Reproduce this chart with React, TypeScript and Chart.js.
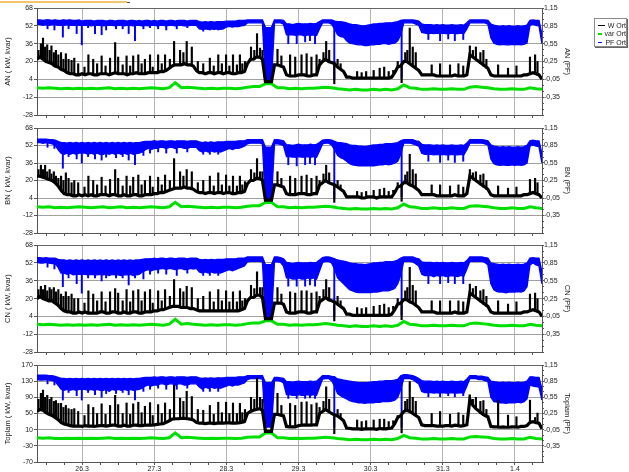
import { useEffect, useRef } from 'react';
import { Chart, registerables } from 'chart.js';
Chart.register(...registerables);

// x axis = hours since 25.3 00:00
const X_MIN = 9;
const X_MAX = 177;
const DAY_TICKS = [24, 48, 72, 96, 120, 144, 168];
const DAY_LABELS = ['26.3', '27.3', '28.3', '29.3', '30.3', '31.3', '1.4'];
const PF_LABELS = [-0.35, -0.05, 0.25, 0.55, 0.85, 1.15];
const LEGEND = ['W Ort', 'var Ort', 'PF Ort'];
const COLORS = ['#000000', '#00e000', '#0000ff'];

// hourly base level of W (h 9..177)
const W_AN = [
  22,24,22,20,19,18,16,15,13,12,10,9,9,8,8,
  9,8,9,9,8,8,9,9,9,8,9,10,9,9,9,8,9,9,10,9,9,9,10,10,
  10,10,11,11,12,14,16,17,17,17,18,17,17,16,12,10,10,9,10,10,9,10,10,9,
  10,10,9,9,10,10,11,18,22,22,24,24,22,2,2,2,17,17,16,15,8,7,7,7,
  8,8,8,7,7,8,8,17,20,22,20,19,18,15,13,11,6,6,5,5,5,5,5,5,
  5,5,5,5,5,5,5,6,10,15,16,20,20,18,16,14,12,8,8,8,8,8,7,7,
  7,7,7,7,8,7,7,7,8,26,24,22,20,18,16,14,8,7,7,7,7,7,7,7,
  7,7,7,8,8,9,10,9,8,4,
];
const W_BN = [
  24,24,23,22,21,20,18,15,11,8,7,7,6,6,7,
  6,7,6,7,6,6,7,7,7,6,7,7,6,6,7,6,6,7,7,6,6,7,7,7,
  8,8,9,9,10,11,12,13,13,13,14,13,13,12,10,9,9,8,9,9,8,9,9,8,
  9,9,8,8,9,9,10,17,20,20,22,22,20,2,2,2,16,16,15,14,8,7,7,7,
  8,8,8,7,7,8,8,16,18,20,18,17,16,14,12,10,5,5,5,5,5,4,4,5,
  5,5,4,5,5,5,5,5,9,14,15,18,18,16,15,13,11,7,7,7,7,7,6,6,
  6,6,6,6,7,6,6,6,8,24,22,20,18,16,14,12,7,6,6,6,6,6,6,6,
  6,6,6,7,7,8,9,8,7,4,
];
const W_CN = [
  20,22,20,19,18,18,16,14,11,9,8,8,7,7,8,
  7,8,7,7,7,7,8,8,7,7,8,8,7,7,8,7,7,8,8,7,7,8,8,8,
  9,9,10,10,11,12,13,13,13,12,12,12,11,11,10,9,9,9,9,9,9,9,9,9,
  9,9,9,9,9,10,11,18,21,21,23,23,21,2,2,2,16,16,16,15,8,7,7,7,
  8,8,8,7,7,8,8,17,19,21,19,18,17,15,13,11,6,6,5,5,5,5,5,5,
  5,5,5,5,5,5,5,6,10,15,16,19,19,17,16,14,12,8,8,8,8,8,7,7,
  7,7,7,7,8,7,7,7,8,25,23,21,19,17,15,13,8,7,7,7,7,7,7,7,
  7,7,7,8,8,9,10,9,8,4,
];
const W_TOP = [
  55,60,58,52,48,45,40,35,28,24,22,20,19,19,19,
  18,20,19,19,18,19,20,20,19,20,21,21,19,19,21,19,19,21,21,20,20,21,21,21,
  22,23,24,25,28,32,36,37,37,38,38,37,36,34,28,26,26,25,26,26,25,26,27,26,
  27,27,26,26,27,28,30,50,55,58,60,62,58,6,6,6,48,48,46,44,18,17,17,17,
  20,21,22,21,21,22,22,50,55,60,55,50,46,44,38,32,14,13,12,12,12,11,12,12,
  12,12,11,13,12,12,13,14,25,40,45,55,58,55,50,45,40,22,20,20,20,20,19,19,
  19,20,20,19,21,20,19,20,22,85,70,62,56,50,45,42,18,17,17,16,17,16,16,17,
  17,16,18,18,20,28,30,27,26,12,
];

// W peaks (thin spikes) at these hours
const SPIKE_HOURS = [
  9.5,10.3,11,11.7,12.4,13.2,13.8,14.6,15.3,16.1,17,17.8,18.6,19.5,20.5,21.4,22.7,
  24.8,26.1,27.7,29,30.5,31.8,33.3,35,36,37.5,38.8,40,41,42.7,43.8,44.9,46.6,47.5,
  49.3,50.5,51.6,53.2,54.6,56.6,57.7,58.8,60.5,62.5,64.3,66.5,67.8,69.3,70.5,71.9,
  73,74.2,75.5,76.5,77.3,78.2,80.2,81.3,82.2,83.2,84,89,90.3,93.2,94.9,
  97,98.7,100.3,102,103,104.3,105.2,106.2,109,110,115.5,117,118.5,
  121,123,124.5,126,127.5,129,131.5,132.2,133,134,135,140.3,143.1,
  146.4,149.2,150.8,153,154,155,156.5,157.5,158.5,162.4,165.7,168.5,
  173,174.7,175.5,
];
const SPIKE_AN = [
  30,36,41,33,35,30,34,28,30,26,28,22,27,22,21,23,18,
  15,26,22,18,25,16,23,37,24,17,25,16,25,26,18,22,26,15,
  26,18,26,22,38,30,28,38,33,20,18,23,16,26,18,26,
  16,26,17,26,18,20,33,30,45,32,30,31,25,26,24,
  26,27,24,26,22,28,38,30,22,18,11,10,11,
  12,14,15,11,12,20,28,30,50,33,28,17,18,
  17,18,16,34,30,33,28,30,22,17,14,16,
  24,26,20,
];
const SPIKE_BN = [
  30,34,30,34,28,30,26,28,24,22,24,20,27,22,18,20,18,
  14,24,20,16,23,15,21,30,22,15,24,15,23,25,16,20,24,14,
  23,16,25,20,40,28,24,30,28,18,20,24,15,27,16,25,
  15,24,15,24,16,19,30,27,40,28,28,28,22,24,22,
  24,25,22,24,20,26,34,27,20,16,10,9,10,
  11,12,13,10,11,18,25,28,44,30,26,16,16,
  15,16,14,30,27,28,25,26,20,15,13,14,
  21,22,18,
];
const SPIKE_CN = [
  28,31,28,32,27,30,28,30,26,28,24,22,26,22,24,20,20,
  16,27,24,18,26,17,26,29,25,18,28,17,27,28,18,26,28,16,
  27,18,28,22,37,29,26,31,30,20,22,26,17,28,18,27,
  17,26,17,27,18,20,32,29,44,30,30,30,24,26,25,
  27,27,25,26,22,28,37,30,22,18,12,11,12,
  13,14,15,12,13,20,27,30,48,32,27,18,18,
  18,18,17,33,29,31,27,28,22,18,15,17,
  24,25,20,
];
const SPIKE_TOP = [
  85,100,108,90,95,85,90,80,82,75,75,65,70,62,60,62,55,
  45,72,65,50,74,48,70,95,72,50,76,48,74,78,52,68,77,45,
  72,50,76,60,120,88,80,105,92,60,58,70,48,78,52,78,
  50,76,50,75,52,60,90,85,138,90,85,100,70,75,70,
  78,79,72,76,65,80,116,85,60,50,34,30,32,
  34,36,36,30,32,45,80,85,129,90,80,50,55,
  48,52,46,96,85,90,80,82,60,83,46,42,
  83,40,51,
];

// short drops of W to ~0
const W_DIP_HOURS = [107.9, 130.3];
const W_DIP_AN = [0, 1];
const W_DIP_BN = [0, 1];
const W_DIP_CN = [0, 1];
const W_DIP_TOP = [0, 2];

// hourly PF band, upper and lower edge (h 9..177)
const PF_AN_HI = [
  .95,.95,.94,.95,.95,.94,.95,.94,.94,.95,.94,.95,.94,.94,.95,
  .93,.94,.94,.94,.93,.94,.94,.94,.93,.94,.94,.93,.94,.94,.94,.93,.94,.94,.93,.94,.93,.94,.94,.93,
  .94,.93,.94,.94,.93,.94,.94,.93,.94,.94,.94,.93,.94,.94,.94,.92,.91,.92,.91,.92,.91,.92,.92,.92,
  .93,.93,.93,.93,.94,.94,.94,.95,.95,.95,.95,.95,.95,.82,.82,.82,.95,.95,.95,.94,.88,.88,.87,.88,
  .89,.88,.88,.88,.89,.88,.89,.92,.95,.95,.95,.95,.93,.92,.92,.91,.9,.88,.87,.87,.86,.85,.85,.86,
  .87,.88,.88,.89,.89,.9,.9,.9,.91,.92,.94,.95,.95,.95,.95,.94,.93,.88,.87,.87,.87,.86,.87,.86,
  .87,.86,.86,.87,.86,.86,.87,.86,.9,.95,.95,.95,.95,.95,.95,.94,.88,.86,.85,.84,.85,.84,.85,.84,
  .84,.85,.84,.85,.86,.94,.95,.94,.94,.7,
];
const PF_AN_LO = [
  .88,.87,.86,.87,.86,.87,.87,.86,.86,.86,.87,.86,.86,.86,.86,
  .86,.86,.86,.85,.86,.86,.86,.85,.86,.86,.86,.85,.86,.86,.85,.86,.86,.85,.86,.86,.85,.86,.85,.86,
  .86,.85,.86,.86,.85,.86,.86,.85,.86,.86,.85,.85,.86,.86,.86,.8,.79,.8,.79,.8,.79,.8,.79,.8,
  .83,.84,.83,.84,.84,.85,.86,.9,.9,.9,.9,.9,.9,-.08,-.08,-.08,.9,.9,.9,.88,.7,.7,.7,.69,
  .7,.7,.68,.7,.69,.7,.69,.8,.9,.9,.9,.88,.8,.7,.67,.66,.6,.56,.55,.54,.53,.53,.52,.52,
  .53,.53,.54,.54,.55,.55,.54,.55,.56,.6,.7,.9,.9,.9,.9,.88,.86,.74,.73,.72,.73,.72,.73,.72,
  .73,.72,.72,.73,.72,.72,.73,.72,.8,.9,.9,.9,.9,.9,.9,.88,.65,.56,.54,.53,.54,.53,.53,.54,
  .53,.54,.53,.54,.56,.86,.88,.86,.85,.55,
];
const PF_BN_HI = [
  .96,.96,.96,.96,.95,.95,.94,.92,.9,.9,.89,.9,.89,.9,.89,
  .9,.89,.9,.89,.9,.89,.9,.89,.9,.89,.9,.89,.9,.89,.9,.89,.9,.89,.9,.9,.91,.92,.92,.92,
  .93,.92,.93,.93,.92,.93,.93,.92,.93,.93,.93,.92,.93,.93,.93,.91,.9,.91,.9,.91,.9,.91,.91,.91,
  .92,.92,.92,.92,.93,.93,.93,.95,.95,.95,.95,.95,.95,.82,.82,.82,.95,.95,.94,.93,.86,.86,.85,.86,
  .87,.86,.86,.86,.87,.86,.87,.9,.94,.95,.95,.94,.92,.9,.9,.89,.88,.86,.85,.85,.84,.84,.83,.84,
  .85,.86,.86,.87,.87,.88,.88,.88,.89,.9,.93,.95,.95,.95,.95,.93,.92,.87,.86,.86,.86,.85,.86,.85,
  .86,.85,.85,.86,.85,.85,.86,.85,.89,.95,.95,.95,.95,.95,.94,.93,.86,.84,.83,.82,.83,.82,.83,.82,
  .82,.83,.82,.83,.85,.93,.94,.93,.93,.7,
];
const PF_BN_LO = [
  .9,.9,.89,.9,.89,.88,.86,.78,.72,.7,.72,.7,.72,.7,.72,
  .72,.72,.7,.72,.7,.72,.7,.7,.72,.7,.72,.7,.72,.7,.72,.7,.72,.7,.71,.72,.74,.78,.8,.78,
  .8,.8,.82,.82,.8,.82,.82,.8,.82,.82,.8,.8,.82,.82,.82,.76,.74,.76,.74,.76,.74,.75,.74,.76,
  .78,.8,.78,.8,.8,.82,.84,.88,.89,.89,.89,.89,.88,-.08,-.08,-.08,.88,.88,.87,.85,.66,.66,.65,.65,
  .66,.65,.65,.66,.65,.66,.65,.76,.88,.89,.89,.86,.78,.68,.64,.62,.58,.54,.52,.51,.5,.5,.5,.5,
  .5,.5,.51,.52,.52,.53,.52,.53,.55,.58,.7,.89,.89,.89,.88,.86,.84,.72,.7,.7,.7,.69,.7,.69,
  .7,.69,.69,.7,.69,.69,.7,.69,.78,.89,.89,.89,.89,.89,.88,.86,.62,.54,.52,.51,.52,.51,.51,.52,
  .51,.52,.51,.52,.55,.84,.86,.84,.83,.55,
];
const PF_CN_HI = [
  .94,.94,.93,.94,.93,.93,.93,.91,.9,.9,.89,.9,.89,.9,.89,
  .9,.89,.9,.89,.9,.89,.9,.89,.9,.89,.9,.89,.9,.89,.9,.89,.9,.89,.9,.9,.91,.92,.92,.92,
  .93,.92,.93,.93,.92,.93,.93,.92,.93,.93,.93,.92,.93,.93,.93,.91,.9,.91,.9,.91,.9,.91,.91,.91,
  .92,.92,.92,.92,.93,.93,.93,.95,.95,.95,.95,.95,.95,.82,.82,.82,.95,.95,.94,.92,.86,.85,.84,.85,
  .86,.85,.85,.85,.86,.85,.86,.9,.94,.95,.95,.94,.92,.9,.89,.88,.87,.85,.84,.84,.83,.83,.82,.83,
  .84,.85,.85,.86,.86,.87,.87,.87,.88,.9,.93,.95,.95,.95,.95,.93,.92,.87,.86,.86,.86,.85,.86,.85,
  .86,.85,.85,.86,.85,.85,.86,.85,.89,.95,.95,.95,.95,.95,.94,.93,.85,.84,.83,.82,.83,.82,.83,.82,
  .82,.83,.82,.83,.85,.93,.94,.93,.93,.7,
];
const PF_CN_LO = [
  .86,.85,.85,.86,.85,.84,.84,.78,.68,.68,.66,.68,.65,.66,.66,
  .66,.66,.65,.66,.65,.65,.66,.65,.66,.64,.66,.65,.65,.64,.65,.65,.66,.64,.65,.66,.7,.72,.74,.72,
  .74,.74,.75,.76,.74,.76,.75,.74,.75,.76,.74,.74,.76,.75,.76,.7,.68,.7,.68,.7,.68,.69,.68,.7,
  .72,.74,.72,.74,.76,.78,.8,.87,.88,.88,.88,.88,.87,-.08,-.08,-.08,.87,.87,.86,.8,.6,.6,.58,.58,
  .6,.58,.58,.6,.58,.6,.58,.72,.86,.88,.88,.85,.75,.6,.55,.5,.45,.4,.38,.36,.35,.35,.35,.35,
  .35,.36,.36,.37,.38,.38,.38,.4,.42,.5,.65,.88,.88,.88,.87,.84,.8,.66,.64,.64,.64,.62,.64,.63,
  .64,.62,.63,.64,.63,.62,.64,.63,.75,.88,.88,.88,.88,.88,.86,.82,.5,.4,.37,.36,.36,.35,.36,.36,
  .36,.37,.36,.38,.45,.82,.85,.82,.8,.5,
];
const PF_TOP_HI = [
  .96,.96,.96,.96,.95,.95,.94,.92,.9,.9,.89,.9,.89,.9,.89,
  .9,.89,.9,.89,.9,.89,.9,.89,.9,.89,.9,.89,.9,.89,.9,.89,.9,.89,.9,.9,.91,.92,.92,.92,
  .93,.92,.93,.93,.92,.93,.93,.92,.93,.93,.93,.92,.93,.93,.93,.91,.9,.91,.9,.91,.9,.91,.91,.91,
  .92,.92,.92,.92,.93,.93,.93,.95,.95,.95,.95,.95,.95,.82,.82,.82,.92,.92,.91,.9,.84,.84,.83,.84,
  .85,.84,.84,.84,.85,.84,.85,.9,.95,.95,.95,.94,.93,.89,.88,.87,.86,.85,.84,.83,.82,.82,.82,.82,
  .83,.84,.84,.85,.85,.86,.86,.86,.87,.88,.95,.97,.97,.96,.95,.93,.9,.86,.85,.85,.85,.84,.85,.84,
  .85,.84,.84,.85,.84,.84,.85,.84,.89,.95,.95,.95,.94,.94,.93,.92,.85,.84,.83,.82,.83,.82,.83,.82,
  .82,.83,.82,.83,.85,.93,.93,.92,.92,.7,
];
const PF_TOP_LO = [
  .88,.87,.87,.88,.87,.86,.85,.78,.7,.68,.7,.68,.7,.68,.7,
  .7,.7,.68,.7,.68,.7,.68,.68,.7,.66,.7,.68,.7,.68,.7,.68,.7,.68,.69,.7,.72,.76,.78,.76,
  .78,.78,.8,.8,.78,.8,.8,.78,.8,.8,.78,.78,.8,.8,.8,.74,.7,.74,.72,.74,.72,.73,.72,.74,
  .76,.78,.76,.78,.78,.8,.82,.88,.9,.9,.9,.9,.89,0,0,0,.86,.86,.85,.82,.6,.6,.59,.59,
  .6,.59,.59,.6,.59,.6,.59,.74,.89,.9,.9,.86,.76,.62,.58,.55,.52,.49,.47,.46,.45,.45,.44,.45,
  .45,.45,.46,.46,.47,.47,.47,.48,.5,.55,.7,.9,.9,.9,.88,.84,.8,.66,.64,.64,.64,.63,.64,.63,
  .64,.63,.63,.64,.63,.63,.64,.63,.76,.9,.9,.9,.88,.88,.86,.84,.55,.47,.46,.45,.45,.44,.45,.45,
  .45,.46,.45,.47,.52,.78,.76,.75,.74,.5,
];

// thin downward PF dips
const PF_DIP_HOURS = [
  12.5,14.8,17.6,19.5,22.2,23.9,26,28.3,30.5,32,35.3,37.5,39.5,41.6,44.4,46.6,49.3,52,55.5,59,
  64.3,66.5,69.3,92.6,95.4,98.2,99.8,101.5,107.9,130.3,139.2,143.1,145.8,148,150.8,
];
const PF_DIP_AN = [
  .8,.78,.66,.8,.72,.53,.82,.72,.7,.78,.8,.8,.72,.6,.8,.82,.8,.78,.8,.82,
  .76,.78,.78,.55,.55,.58,.6,.55,-.05,-.03,.62,.6,.63,.6,.62,
];
const PF_DIP_BN = [
  .82,.8,.46,.66,.62,.55,.66,.62,.6,.65,.64,.66,.6,.52,.68,.72,.74,.72,.72,.74,
  .7,.7,.7,.52,.5,.52,.54,.52,-.05,-.03,.58,.56,.6,.56,.58,
];
const PF_DIP_CN = [
  .78,.75,.45,.6,.5,.34,.6,.6,.55,.6,.6,.6,.48,.6,.58,.66,.68,.66,.64,.68,
  .64,.64,.64,.46,.46,.46,.48,.46,-.05,-.03,.5,.5,.52,.5,.5,
];
const PF_DIP_TOP = [
  .8,.78,.5,.64,.58,.5,.64,.6,.55,.62,.62,.64,.6,.5,.66,.7,.72,.7,.7,.72,
  .66,.66,.66,.53,.53,.53,.54,.53,0,0,.56,.56,.58,.56,.58,
];

// var values every 2 hours (h 9, 11, ..., 177)
const VAR_AN = [
  -3.5,-4,-3.5,-4,-4.5,-4,-4.5,-4,
  -4.5,-4,-4.5,-4,-3.5,-4.5,-4,-4.5,-4,-4.5,-4,-3.5,
  -4,-4.5,-3.5,1,-3.5,-3,-3.5,-4,-4.5,-4,-4.5,-4,
  -4,-4.5,-4,-3,-2.5,-2.5,0,0,-3.5,-3.5,-4.5,-4,
  -4.5,-4,-4,-3.5,-3,-3.5,-4.5,-5,-5.5,-5,-5.5,-5.5,
  -5,-5.5,-5,-5.5,-4.5,-1,-3.5,-4,-5,-5,-4.5,-5,
  -5,-4.5,-5,-5,-3,-2.5,-3,-3.5,-4.5,-5,-5,-4.5,
  -5,-5,-3.5,-4.5,-5,
];
const VAR_BN = [
  -4,-4.5,-4,-5,-4.5,-5,-4.5,-4,
  -4.5,-5,-4.5,-4,-5,-4.5,-4,-5,-4.5,-5,-4.5,-4,
  -4.5,-5,-4,0,-4,-3.5,-4,-4.5,-5,-4.5,-5,-4.5,
  -4.5,-5,-4.5,-3.5,-3,-3,0,0,-4,-4,-5,-4.5,
  -5,-4.5,-4.5,-4,-3.5,-4,-5,-5.5,-6,-5.5,-6,-6,
  -5.5,-6,-5.5,-6,-5,-1.5,-4,-4.5,-5.5,-5.5,-5,-5.5,
  -5.5,-5,-5.5,-5.5,-3.5,-3,-3.5,-4,-5,-5.5,-5.5,-5,
  -5.5,-5.5,-4,-5,-5.5,
];
const VAR_CN = [
  -3,-3.5,-3,-3.5,-4,-3.5,-4,-3.5,
  -4,-3.5,-4,-3.5,-3,-4,-3.5,-4,-3.5,-4,-3.5,-3,
  -3.5,-4,-3,1.5,-3,-2.5,-3,-3.5,-4,-3.5,-4,-3.5,
  -3.5,-4,-3.5,-2.5,-2,-2,0,0,-3,-3,-4,-3.5,
  -4,-3.5,-3.5,-3,-2.5,-3,-4,-4.5,-5,-4.5,-5,-5,
  -4.5,-5,-4.5,-5,-4,-0.5,-3,-3.5,-4.5,-4.5,-4,-4.5,
  -4.5,-4,-4.5,-4.5,-2.5,-2,-2.5,-3,-4,-4.5,-4.5,-4,
  -4.5,-4.5,-3,-4,-4.5,
];
const VAR_TOP = [
  -10,-11,-10,-12,-12,-11,-12,-11,
  -12,-11,-12,-11,-10,-12,-11,-12,-11,-12,-11,-10,
  -11,-12,-10,2,-10,-9,-10,-11,-12,-11,-12,-11,
  -11,-12,-11,-9,-8,-8,2,2,-10,-10,-12,-11,
  -12,-11,-11,-10,-9,-10,-12,-13,-15,-14,-15,-15,
  -14,-15,-14,-15,-12,-4,-10,-11,-13,-13,-12,-13,
  -13,-12,-13,-13,-8,-7,-8,-9,-12,-13,-13,-12,
  -13,-13,-9,-12,-13,
];

const FONT = 'Liberation Sans, Arial, sans-serif';

const X_TICKS: number[] = [];
for (let h = 12; h <= 174; h += 6) X_TICKS.push(h);
const PF_TICKS: number[] = [];
for (let i = 0; i <= 18; i++) PF_TICKS.push(Math.round((-0.65 + i * 0.1) * 100) / 100);

function pts(arr: number[], start: number, step: number) {
  return arr.map((y, i) => ({ x: start + i * step, y }));
}
function at(arr: number[], h: number) {
  const i = Math.min(arr.length - 1, Math.max(0, Math.round(h - X_MIN)));
  return arr[i];
}

type PanelCfg = {
  name: string; w: number[]; spikes: number[]; wDip: number[]; v: number[];
  hi: number[]; lo: number[]; pfDip: number[];
  yMin: number; yMax: number; yStep: number;
  top: number; height: number; padTop: number; xHeight: number; showX: boolean;
};

const PANELS: PanelCfg[] = [
  { name: 'AN', w: W_AN, spikes: SPIKE_AN, wDip: W_DIP_AN, v: VAR_AN, hi: PF_AN_HI, lo: PF_AN_LO, pfDip: PF_DIP_AN, yMin: -28, yMax: 68, yStep: 16, top: 0, height: 122, padTop: 8, xHeight: 7, showX: false },
  { name: 'BN', w: W_BN, spikes: SPIKE_BN, wDip: W_DIP_BN, v: VAR_BN, hi: PF_BN_HI, lo: PF_BN_LO, pfDip: PF_DIP_BN, yMin: -28, yMax: 68, yStep: 16, top: 122, height: 118, padTop: 6, xHeight: 7, showX: false },
  { name: 'CN', w: W_CN, spikes: SPIKE_CN, wDip: W_DIP_CN, v: VAR_CN, hi: PF_CN_HI, lo: PF_CN_LO, pfDip: PF_DIP_CN, yMin: -28, yMax: 68, yStep: 16, top: 240, height: 119, padTop: 5, xHeight: 7, showX: false },
  { name: 'Toplam', w: W_TOP, spikes: SPIKE_TOP, wDip: W_DIP_TOP, v: VAR_TOP, hi: PF_TOP_HI, lo: PF_TOP_LO, pfDip: PF_DIP_TOP, yMin: -70, yMax: 170, yStep: 40, top: 359, height: 113, padTop: 6, xHeight: 10, showX: true },
];

function Panel({ cfg }: { cfg: PanelCfg }) {
  const ref = useRef<HTMLCanvasElement>(null);
  useEffect(() => {
    const font = { family: FONT, size: 7 };
    const wBars = SPIKE_HOURS.map((h, i) => ({ x: h, y: [at(cfg.w, h), cfg.spikes[i]] }))
      .concat(W_DIP_HOURS.map((h, i) => ({ x: h, y: [cfg.wDip[i], at(cfg.w, h)] })));
    const pfBars = PF_DIP_HOURS.map((h, i) => ({ x: h, y: [cfg.pfDip[i], at(cfg.hi, h)] }));
    const chart = new Chart(ref.current as HTMLCanvasElement, {
      type: 'line',
      data: {
        datasets: [
          { label: 'PF lo', data: pts(cfg.lo, X_MIN, 1), yAxisID: 'y2', borderColor: COLORS[2], borderWidth: 1.4, fill: false, order: 1 },
          { label: 'PF hi', data: pts(cfg.hi, X_MIN, 1), yAxisID: 'y2', borderColor: COLORS[2], borderWidth: 1.4, backgroundColor: COLORS[2], fill: '-1', order: 1 },
          { type: 'bar', label: 'PF dips', data: pfBars, yAxisID: 'y2', backgroundColor: COLORS[2], borderWidth: 0, barThickness: 1.3, grouped: false, order: 1 },
          { label: 'W', data: pts(cfg.w, X_MIN, 1), yAxisID: 'y', borderColor: COLORS[0], borderWidth: 3.2, fill: false, order: 0 },
          { type: 'bar', label: 'W peaks', data: wBars, yAxisID: 'y', backgroundColor: COLORS[0], borderWidth: 0, barThickness: 1.5, grouped: false, order: 0 },
          { label: 'var', data: pts(cfg.v, X_MIN, 2), yAxisID: 'y', borderColor: COLORS[1], borderWidth: 3, fill: false, order: 2 },
        ],
      },
      options: {
        animation: false,
        responsive: false,
        maintainAspectRatio: false,
        layout: { padding: { top: cfg.padTop, left: 0, right: 54, bottom: 0 } },
        plugins: { legend: { display: false }, tooltip: { enabled: false } },
        elements: { point: { radius: 0 }, line: { tension: 0 } },
        scales: {
          x: {
            type: 'linear', min: X_MIN, max: X_MAX, offset: false,
            afterBuildTicks: (s: any) => { s.ticks = X_TICKS.map((v) => ({ value: v })); },
            afterFit: (s: any) => { s.height = cfg.xHeight; },
            grid: {
              offset: false,
              color: (c: any) => (c.tick && c.tick.value % 24 === 0 ? '#b4b4b4' : 'rgba(0,0,0,0)'),
              tickColor: '#555', tickLength: 3, lineWidth: 1,
            },
            border: { display: true, color: '#555' },
            ticks: {
              display: cfg.showX, autoSkip: false, maxRotation: 0, padding: 0, font, color: '#222',
              callback: (v: any) => { const i = DAY_TICKS.indexOf(Number(v)); return i >= 0 ? DAY_LABELS[i] : ''; },
            },
          },
          y: {
            position: 'left', min: cfg.yMin, max: cfg.yMax,
            afterFit: (s: any) => { s.width = 37; },
            ticks: { stepSize: cfg.yStep, font, color: '#222', padding: 1, autoSkip: false },
            title: { display: true, text: cfg.name + ' ( kW, kvar)', font: { family: FONT, size: 7.5 }, color: '#222', padding: { top: 3, bottom: 0 } },
            grid: {
              color: (c: any) => (c.tick && c.tick.value === cfg.yMax ? '#666' : '#a0a0a0'),
              tickColor: '#555', tickLength: 3, lineWidth: 1,
            },
            border: { display: true, color: '#555' },
          },
          y2: {
            position: 'right', min: -0.65, max: 1.15,
            afterBuildTicks: (s: any) => { s.ticks = PF_TICKS.map((v) => ({ value: v })); },
            afterFit: (s: any) => { s.width = 33; },
            ticks: {
              autoSkip: false, font, color: '#222', padding: 0,
              callback: (v: any) => {
                const n = Number(v);
                return PF_LABELS.some((p) => Math.abs(p - n) < 0.001) ? n.toFixed(2).replace('.', ',') : '';
              },
            },
            title: { display: true, text: cfg.name + ' (PF)', font: { family: FONT, size: 7.5 }, color: '#222', padding: { top: 3, bottom: 0 } },
            grid: { drawOnChartArea: false, color: '#555', tickLength: 2 },
            border: { display: true, color: '#555' },
          },
        },
      } as any,
    } as any);
    return () => chart.destroy();
  }, [cfg]);
  return (
    <canvas
      ref={ref}
      width={629}
      height={cfg.height}
      style={{ position: 'absolute', left: 0, top: cfg.top, width: 629, height: cfg.height }}
    />
  );
}

export default function App() {
  useEffect(() => {
    document.body.style.margin = '0';
  }, []);
  return (
    <div style={{ position: 'relative', width: 629, height: 472, overflow: 'hidden', background: '#fff' }}>
      <div style={{ position: 'absolute', left: 0, top: 1, width: 127, height: 2, background: '#f2c46c' }} />
      <div style={{ position: 'absolute', left: 127, top: 2, width: 3, height: 1, background: '#555' }} />
      {PANELS.map((p) => (
        <Panel key={p.name} cfg={p} />
      ))}
      <div
        style={{
          position: 'absolute', left: 594, top: 18, width: 33, height: 29,
          border: '1px solid #8a8a8a', boxShadow: '1px 1px 0 #666', background: '#fff',
          fontFamily: FONT, fontSize: 7, color: '#222', paddingTop: 2, boxSizing: 'border-box',
        }}
      >
        {LEGEND.map((t, i) => (
          <div key={t} style={{ display: 'flex', alignItems: 'center', height: 8.5, whiteSpace: 'nowrap' }}>
            <span style={{ display: 'inline-block', width: 7, height: 1.5, background: COLORS[i], marginLeft: 3, marginRight: 3 }} />
            <span>{t}</span>
          </div>
        ))}
      </div>
    </div>
  );
}
